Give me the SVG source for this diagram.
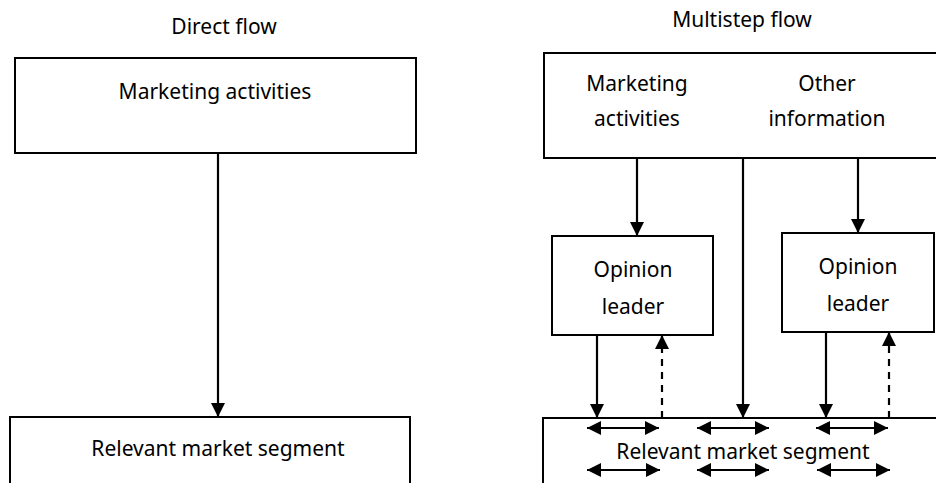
<svg xmlns="http://www.w3.org/2000/svg" width="936" height="483" viewBox="0 0 936 483">
<style>
.box{fill:#fff;stroke:#000;stroke-width:2}
.t{font-family:"Noto Sans","DejaVu Sans",sans-serif;font-size:21px;fill:#000;text-anchor:middle}
.c{stroke:#000;stroke-width:2.2;fill:none}
.d{stroke-dasharray:7,6}
</style>
<defs>
<marker id="ah" viewBox="0 0 14 14" refX="14" refY="7" markerWidth="14" markerHeight="14" markerUnits="userSpaceOnUse" orient="auto-start-reverse">
<path d="M0,0 L14,7 L0,14 Z" fill="#000"/>
</marker>
</defs>
<rect width="936" height="483" fill="#fff"/>
<text class="t" x="224" y="34">Direct flow</text>
<text class="t" x="742" y="27">Multistep flow</text>
<g id="direct-marketing">
<rect class="box" x="15" y="58" width="401" height="95"/>
<text class="t" x="215" y="99">Marketing activities</text>
</g>
<g id="direct-segment">
<rect class="box" x="10" y="417" width="400" height="70"/>
<text class="t" x="218" y="456">Relevant market segment</text>
</g>
<g id="multi-top">
<rect class="box" x="544" y="53" width="400" height="105"/>
<text class="t" x="637" y="91">Marketing</text>
<text class="t" x="637" y="126">activities</text>
<text class="t" x="827" y="91">Other</text>
<text class="t" x="827" y="126">information</text>
</g>
<g id="leader-left">
<rect class="box" x="552" y="236" width="161" height="99"/>
<text class="t" x="633" y="277">Opinion</text>
<text class="t" x="633" y="314">leader</text>
</g>
<g id="leader-right">
<rect class="box" x="782" y="233" width="152" height="99"/>
<text class="t" x="858" y="274">Opinion</text>
<text class="t" x="858" y="311">leader</text>
</g>
<g id="multi-segment">
<rect class="box" x="543" y="418" width="400" height="70"/>
<text class="t" x="743" y="459">Relevant market segment</text>
</g>
<g id="connectors">
<line class="c" x1="218" y1="153" x2="218" y2="417" marker-end="url(#ah)"/>
<line class="c" x1="637" y1="158" x2="637" y2="236" marker-end="url(#ah)"/>
<line class="c" x1="743" y1="158" x2="743" y2="418" marker-end="url(#ah)"/>
<line class="c" x1="858" y1="158" x2="858" y2="233" marker-end="url(#ah)"/>
<line class="c" x1="597" y1="335" x2="597" y2="418" marker-end="url(#ah)"/>
<line class="c d" x1="662" y1="418" x2="662" y2="335" marker-end="url(#ah)"/>
<line class="c" x1="826" y1="332" x2="826" y2="418" marker-end="url(#ah)"/>
<line class="c d" x1="889" y1="418" x2="889" y2="332" marker-end="url(#ah)"/>
<line class="c" x1="587" y1="428" x2="659" y2="428" marker-start="url(#ah)" marker-end="url(#ah)"/>
<line class="c" x1="697" y1="428" x2="769" y2="428" marker-start="url(#ah)" marker-end="url(#ah)"/>
<line class="c" x1="816" y1="428" x2="888" y2="428" marker-start="url(#ah)" marker-end="url(#ah)"/>
<line class="c" x1="587" y1="470" x2="660" y2="470" marker-start="url(#ah)" marker-end="url(#ah)"/>
<line class="c" x1="697" y1="470" x2="769" y2="470" marker-start="url(#ah)" marker-end="url(#ah)"/>
<line class="c" x1="817" y1="470" x2="890" y2="470" marker-start="url(#ah)" marker-end="url(#ah)"/>
</g>
</svg>
